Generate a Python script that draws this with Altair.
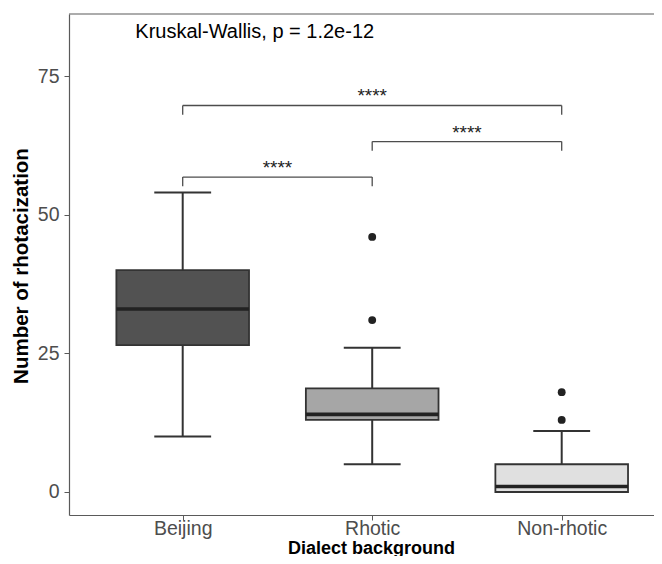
import json
import altair as alt
import pandas as pd

# ---- data ----
categories = ["Beijing", "Rhotic", "Non-rhotic"]
fills = ["#525252", "#a6a6a6", "#e0e0e0"]
q1 = [26.5, 13.0, 0.0]
median = [33.0, 14.0, 1.0]
q3 = [40.0, 18.7, 5.0]
whisker_low = [10.0, 5.0, 0.0]
whisker_high = [54.0, 26.0, 11.0]

outlier_group = ["Rhotic", "Rhotic", "Non-rhotic", "Non-rhotic"]
outlier_value = [46.0, 31.0, 18.0, 13.0]

bracket_from = ["Beijing", "Rhotic", "Beijing"]
bracket_to = ["Rhotic", "Non-rhotic", "Non-rhotic"]
bracket_y = [56.8, 63.2, 69.7]
bracket_label = ["****", "****", "****"]
tip_length = 1.65

kw_label = "Kruskal-Wallis, p = 1.2e-12"
kw_x = 0.75
kw_y = 81.8

y_ticks = [0, 25, 50, 75]

# ---- layout / style ----
FONT = "Liberation Sans"
W, H = 585, 501
BOX_HALF = 0.35
CAP_HALF = 0.15
X_DOMAIN = [0.4, 0.4 + W / 189.5]
Y_DOMAIN = [-4.15, 86.2]
AXIS_COL = "#5a5a5a"
LINE_COL = "#333333"

pos = {c: i + 1 for i, c in enumerate(categories)}

box_df = pd.DataFrame({
    "group": categories,
    "pos": [pos[c] for c in categories],
    "q1": q1, "median": median, "q3": q3,
    "wlo": whisker_low, "whi": whisker_high,
})
box_df["lo"] = box_df["pos"] - BOX_HALF
box_df["hi"] = box_df["pos"] + BOX_HALF
box_df["clo"] = box_df["pos"] - CAP_HALF
box_df["chi"] = box_df["pos"] + CAP_HALF

out_df = pd.DataFrame({
    "pos": [pos[g] for g in outlier_group],
    "value": outlier_value,
})

br_df = pd.DataFrame({
    "x1": [pos[a] for a in bracket_from],
    "x2": [pos[b] for b in bracket_to],
    "y": bracket_y,
    "label": bracket_label,
})
br_df["ytip"] = br_df["y"] - tip_length
br_df["xm"] = (br_df["x1"] + br_df["x2"]) / 2

tips_df = pd.DataFrame({
    "x": list(br_df["x1"]) + list(br_df["x2"]),
    "y": list(br_df["y"]) * 2,
    "ytip": list(br_df["ytip"]) * 2,
})

kw_df = pd.DataFrame({"x": [kw_x], "y": [kw_y], "label": [kw_label]})

label_expr = "%s[datum.value - 1]" % json.dumps(categories)

xscale = alt.Scale(domain=X_DOMAIN, nice=False, zero=False)
yscale = alt.Scale(domain=Y_DOMAIN, nice=False, zero=False)

x_axis = alt.Axis(
    values=[1, 2, 3], labelExpr=label_expr, grid=False,
    tickSize=5, tickColor=AXIS_COL, tickWidth=1,
    domainColor=AXIS_COL, domainWidth=1.2,
    labelFont=FONT, labelFontSize=19.5, labelColor="#4d4d4d",
    labelBaseline="alphabetic", labelPadding=14.5, labelFlush=False,
    title="Dialect background", titleFont=FONT, titleFontSize=18,
    titleFontWeight="bold", titleColor="#000000",
    titleX=302, titleY=38, titleBaseline="alphabetic", titleAlign="center",
)
y_axis = alt.Axis(
    values=y_ticks, grid=False,
    tickSize=5, tickColor=AXIS_COL, tickWidth=1,
    domainColor=AXIS_COL, domainWidth=1.2,
    labelFont=FONT, labelFontSize=19.5, labelColor="#4d4d4d",
    labelPadding=5, labelFlush=False,
    title="Number of rhotacization", titleFont=FONT, titleFontSize=20.5,
    titleFontWeight="bold", titleColor="#000000",
    titleX=-47.8, titleY=H / 2 + 1, titleAngle=270,
    titleBaseline="middle", titleAlign="center",
)

base = alt.Chart(box_df)

whisk_low = base.mark_rule(color=LINE_COL, strokeWidth=2).encode(
    x=alt.X("pos:Q", scale=xscale, axis=x_axis),
    y=alt.Y("wlo:Q", scale=yscale, axis=y_axis),
    y2="q1:Q",
)
whisk_high = base.mark_rule(color=LINE_COL, strokeWidth=2).encode(
    x="pos:Q", y="q3:Q", y2="whi:Q",
)
cap_low = base.mark_rule(color=LINE_COL, strokeWidth=2).encode(
    x="clo:Q", x2="chi:Q", y="wlo:Q",
)
cap_high = base.mark_rule(color=LINE_COL, strokeWidth=2).encode(
    x="clo:Q", x2="chi:Q", y="whi:Q",
)
boxes = base.mark_rect(stroke=LINE_COL, strokeWidth=1.8).encode(
    x="lo:Q", x2="hi:Q", y="q1:Q", y2="q3:Q",
    color=alt.Color("group:N", scale=alt.Scale(domain=categories, range=fills), legend=None),
)
medians = base.mark_rule(color="#222222", strokeWidth=3.6).encode(
    x="lo:Q", x2="hi:Q", y="median:Q",
)
outliers = alt.Chart(out_df).mark_circle(size=62, color="#222222", opacity=1).encode(
    x="pos:Q", y="value:Q",
)

br_h = alt.Chart(br_df).mark_rule(color="#4d4d4d", strokeWidth=1.3).encode(
    x="x1:Q", x2="x2:Q", y="y:Q",
)
br_tips = alt.Chart(tips_df).mark_rule(color="#4d4d4d", strokeWidth=1.3).encode(
    x="x:Q", y="y:Q", y2="ytip:Q",
)
br_text = alt.Chart(br_df).mark_text(
    font=FONT, fontSize=19, color="#222222", baseline="alphabetic", dy=-3,
).encode(x="xm:Q", y="y:Q", text="label:N")

kw_text = alt.Chart(kw_df).mark_text(
    font=FONT, fontSize=20, color="#000000", align="left", baseline="alphabetic",
).encode(x="x:Q", y="y:Q", text="label:N")

top_border = alt.Chart(alt.Data(values=[{}])).mark_rule(
    color=AXIS_COL, strokeWidth=1.2
).encode(x=alt.value(0), x2=alt.value(W), y=alt.value(0))

chart = alt.layer(
    whisk_low, whisk_high, cap_low, cap_high, boxes, medians, outliers,
    br_h, br_tips, br_text, kw_text, top_border,
).properties(
    width=W, height=H,
    autosize=alt.AutoSizeParams(type="none"),
    padding={"left": 61, "top": 6, "right": 0, "bottom": 41},
    background="#ffffff",
).configure_view(strokeWidth=0)

chart.save("out.html", embed_options={"renderer": "svg", "actions": False})
